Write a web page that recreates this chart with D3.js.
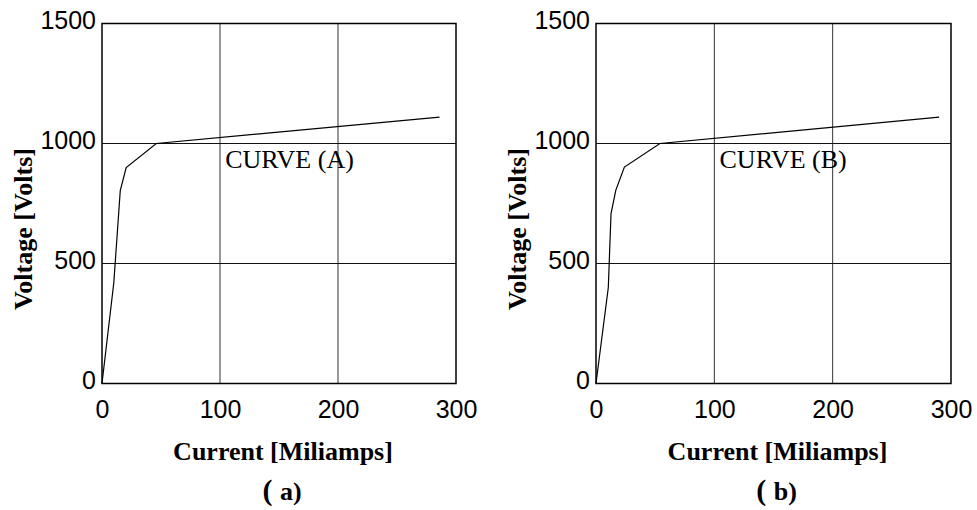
<!DOCTYPE html>
<html>
<head>
<meta charset="utf-8">
<script src="https://cdn.jsdelivr.net/npm/d3@7"></script>
<style>
  body { margin: 0; background: #fff; }
  svg { display: block; }
</style>
</head>
<body>
<div id="chart"></div>
<script>
// DATA
var xTicks = [0, 100, 200, 300];
var yTicks = [0, 500, 1000, 1500];
var xGrid = [100, 200];
var yGrid = [500, 1000];

// curve (a): current [mA] vs voltage [V]
var curveA_I = [0, 10, 15.5, 20.5, 46, 286];
var curveA_V = [0, 420, 805, 900, 1000, 1110];
// curve (b)
var curveB_I = [0, 10.4, 12.7, 16.7, 24, 54, 290];
var curveB_V = [0, 400, 708, 805, 902, 1000, 1110];

var panels = [
  { I: curveA_I, V: curveA_V, label: 'CURVE (A)', caption: 'a', x0: 102, x1: 456 },
  { I: curveB_I, V: curveB_V, label: 'CURVE (B)', caption: 'b', x0: 596, x1: 951 }
];

// LAYOUT
var width = 977, height = 510;
var yTop = 23.5, yBottom = 383.5;
var sans = '"Liberation Sans", Arial, sans-serif';
var serif = '"Liberation Serif", "Times New Roman", serif';

var svg = d3.select('#chart')
  .append('svg')
    .attr('width', width)
    .attr('height', height);

panels.forEach(function(p) {
  var x = d3.scaleLinear().domain([0, 300]).range([p.x0, p.x1]);
  var y = d3.scaleLinear().domain([0, 1500]).range([yBottom, yTop]);
  var g = svg.append('g');

  // grid lines
  g.selectAll('.vgrid')
    .data(xGrid)
    .enter()
    .append('line')
      .attr('x1', d => x(d)).attr('x2', d => x(d))
      .attr('y1', y(0)).attr('y2', y(1500))
      .attr('stroke', '#333')
      .attr('stroke-width', 1);
  g.selectAll('.hgrid')
    .data(yGrid)
    .enter()
    .append('line')
      .attr('x1', x(0)).attr('x2', x(300))
      .attr('y1', d => y(d)).attr('y2', d => y(d))
      .attr('stroke', '#111')
      .attr('stroke-width', 1);

  // frame
  g.append('rect')
    .attr('x', x(0)).attr('y', y(1500))
    .attr('width', x(300) - x(0))
    .attr('height', y(0) - y(1500))
    .attr('fill', 'none')
    .attr('stroke', '#000')
    .attr('stroke-width', 1.5);

  // axes (labels only)
  var xAxis = g.append('g')
    .attr('transform', 'translate(0,' + y(0) + ')')
    .call(d3.axisBottom(x).tickValues(xTicks).tickFormat(d3.format('d')).tickSize(0).tickPadding(17));
  var yAxis = g.append('g')
    .attr('transform', 'translate(' + x(0) + ',0)')
    .call(d3.axisLeft(y).tickValues(yTicks).tickFormat(d3.format('d')).tickSize(0).tickPadding(6));
  [xAxis, yAxis].forEach(function(a) {
    a.select('.domain').remove();
    a.selectAll('text')
      .style('font-family', sans)
      .style('font-size', '25px')
      .attr('fill', '#000');
  });
  yAxis.selectAll('text').attr('dy', '0.2em');

  // curve
  var pts = p.I.map((d, i) => [d, p.V[i]]);
  g.append('path')
    .datum(pts)
    .attr('d', d3.line().x(d => x(d[0])).y(d => y(d[1])))
    .attr('fill', 'none')
    .attr('stroke', '#000')
    .attr('stroke-width', 1.2);

  // curve label
  g.append('text')
    .attr('x', x(104.4))
    .attr('y', y(896))
    .style('font-family', serif)
    .style('font-size', '26px')
    .text(p.label);

  // axis titles
  g.append('text')
    .attr('x', (x(0) + x(300)) / 2 + 4)
    .attr('y', 460)
    .attr('text-anchor', 'middle')
    .style('font-family', serif)
    .style('font-size', '26px')
    .style('font-weight', 'bold')
    .text('Current [Miliamps]');

  g.append('text')
    .attr('transform', 'translate(' + (x(0) - 70) + ',229) rotate(-90)')
    .attr('text-anchor', 'middle')
    .style('font-family', serif)
    .style('font-size', '26px')
    .style('font-weight', 'bold')
    .text('Voltage [Volts]');

  // caption
  var cap = g.append('text')
    .attr('x', (x(0) + x(300)) / 2 + 3)
    .attr('y', 500)
    .attr('text-anchor', 'middle')
    .style('font-family', serif)
    .style('font-weight', 'bold')
    .style('font-size', '26px');
  cap.append('tspan').style('font-size', '30px').text('( ');
  cap.append('tspan').text(p.caption + ')');
});
</script>
</body>
</html>
